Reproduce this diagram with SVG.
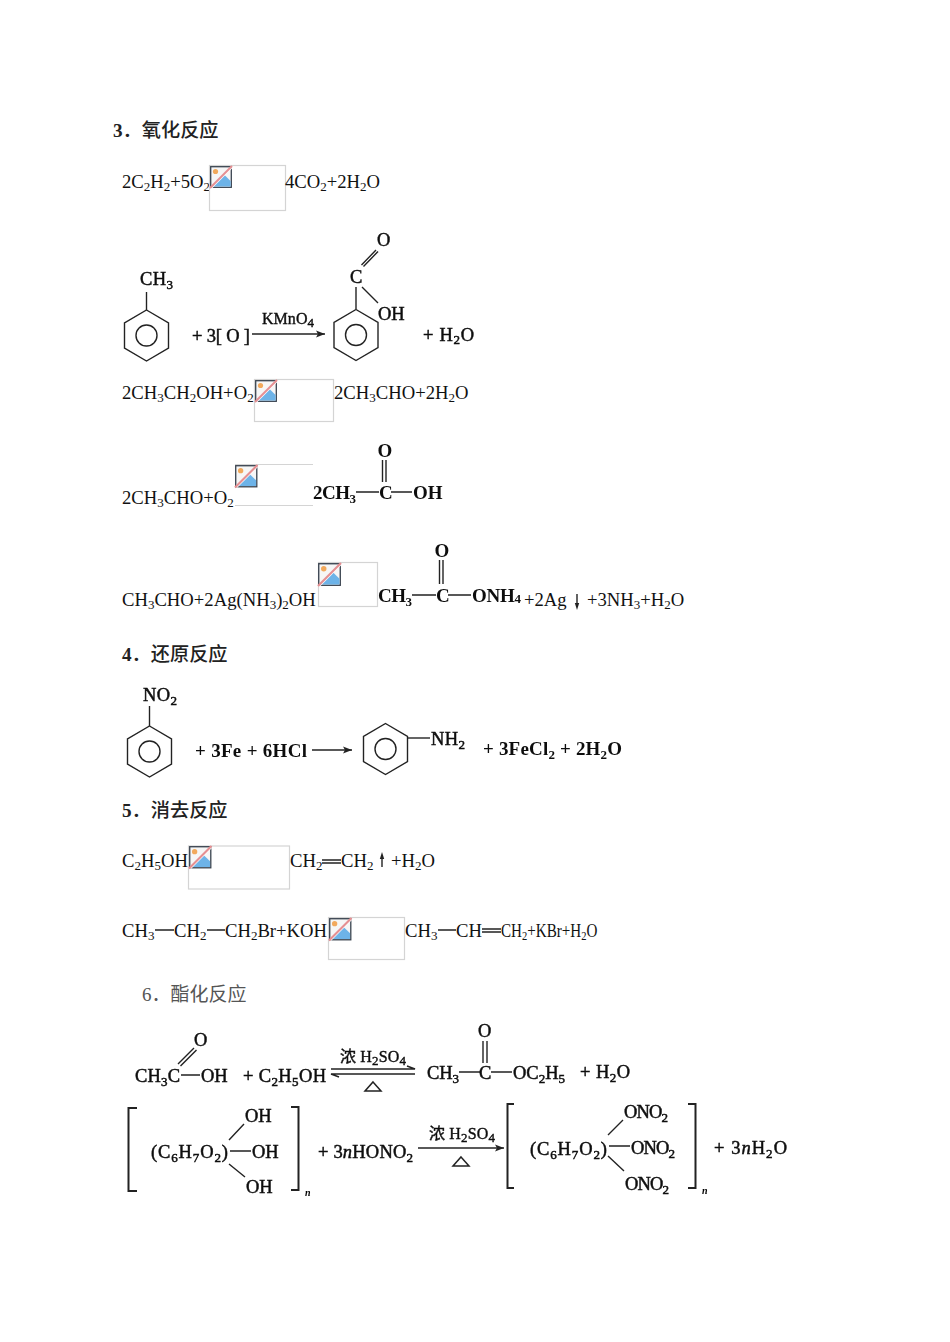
<svg xmlns="http://www.w3.org/2000/svg" xmlns:xlink="http://www.w3.org/1999/xlink" width="950" height="1342" viewBox="0 0 950 1342">
<style>
text{font-family:"Liberation Serif","Noto Sans CJK SC",serif;fill:#000;white-space:pre}
.t{font-size:18.67px;fill:#111}
.h{font-size:19.2px;font-weight:500;fill:#222}
.d{font-weight:bold}
.h6{font-size:19px;fill:#555}
.b{font-size:19px;font-weight:bold;fill:#111}
.r{font-size:18.5px;fill:#111;stroke:#111;stroke-width:.5px}
.k{font-size:16px;fill:#111;stroke:#111;stroke-width:.4px}
.s{font-size:13px}
.n{font-size:10px;font-style:italic;font-weight:bold}
.box{fill:#fff;stroke:#d4d4d4;stroke-width:1.2}
.l,.ring{fill:none;stroke:#222;stroke-width:1.4}
.l2{fill:none;stroke:#222;stroke-width:2}
.th{fill:none;stroke:#222;stroke-width:1.5}
.h-f{fill:#222;stroke:none}
.soft{filter:url(#soft)}
</style>
<defs>
<filter id="soft" x="-5%" y="-5%" width="110%" height="110%"><feGaussianBlur stdDeviation="0.35"/></filter>
<symbol id="broken" viewBox="0 0 22 22" overflow="visible">
<rect x="0.7" y="0.7" width="20.6" height="20.6" fill="#f6f6f6" stroke="#3a4450" stroke-width="1.3"/>
<circle cx="5.5" cy="5.5" r="2.6" fill="#f2a95c"/>
<path d="M1.4 20.6 L11 11 L14 8.500 L20.600 15 V20.600 Z" fill="#6db3e8"/>
<path d="M1.500 22 L22 1.500" stroke="#fff" stroke-width="1.200"/>
<path d="M0 22 L22 0" stroke="#e58f92" stroke-width="2"/>
</symbol>
<g id="benzene">
<path class="ring" d="M0 -25.5 L22 -12.7 V12.7 L0 25.5 L-22 12.7 V-12.7 Z"/>
<circle class="ring" r="10.5"/>
</g>
<marker id="ah" markerUnits="userSpaceOnUse" markerWidth="10" markerHeight="8" refX="9" refY="4" orient="auto"><path class="h-f" d="M0 0.6 L9 4 L0 7.4 L2 4 Z"/></marker>
</defs>

<g id="heading-3"><text class="h" x="113" y="137"><tspan class="d">3</tspan>．氧化反应</text></g>

<g id="eq1">
<text class="t" x="122" y="188">2C<tspan class="s" dy="3">2</tspan><tspan dy="-3">H</tspan><tspan class="s" dy="3">2</tspan><tspan dy="-3">+5O</tspan><tspan class="s" dy="3">2</tspan></text>
<rect class="box" x="209.5" y="165.5" width="76" height="45"/><use xlink:href="#broken" href="#broken" x="210" y="166" width="22" height="22"/>
<text class="t" x="285" y="188">4CO<tspan class="s" dy="3">2</tspan><tspan dy="-3">+2H</tspan><tspan class="s" dy="3">2</tspan><tspan dy="-3">O</tspan></text>
</g>

<g id="eq2" class="soft">
<use href="#benzene" xlink:href="#benzene" x="146.500" y="335.500"/>
<path class="l" d="M146.500 310 V292"/>
<text class="r" x="140" y="285" textLength="33">CH<tspan class="s" dy="4">3</tspan></text>
<text class="r" x="192" y="342" textLength="58">+ 3[ O ]</text>
<path class="l" d="M252 334 H325" marker-end="url(#ah)"/>
<text class="k" x="262" y="324" textLength="52">KMnO<tspan class="s" dy="3">4</tspan></text>
<use href="#benzene" xlink:href="#benzene" x="356" y="335"/>
<path class="l" d="M356 309 V287 M362 287 L378 303 M361.500 265 L376 250 M363.500 266.500 L378 251.500"/>
<text class="r" x="350" y="283">C</text>
<text class="r" x="378" y="320">OH</text>
<text class="r" x="377" y="246">O</text>
<text class="r" x="423" y="341" textLength="51">+ H<tspan class="s" dy="3">2</tspan><tspan dy="-3">O</tspan></text>
</g>

<g id="eq3">
<text class="t" x="122" y="399">2CH<tspan class="s" dy="3">3</tspan><tspan dy="-3">CH</tspan><tspan class="s" dy="3">2</tspan><tspan dy="-3">OH+O</tspan><tspan class="s" dy="3">2</tspan></text>
<rect class="box" x="254.500" y="379.500" width="79" height="42"/><use xlink:href="#broken" href="#broken" x="255" y="380" width="22" height="22"/>
<text class="t" x="334" y="399">2CH<tspan class="s" dy="3">3</tspan><tspan dy="-3">CHO+2H</tspan><tspan class="s" dy="3">2</tspan><tspan dy="-3">O</tspan></text>
</g>

<g id="eq4">
<text class="t" x="122" y="504">2CH<tspan class="s" dy="3">3</tspan><tspan dy="-3">CHO+O</tspan><tspan class="s" dy="3">2</tspan></text>
<path class="box" d="M235 464.500 H313 M235 505.500 H313"/><use xlink:href="#broken" href="#broken" x="235" y="465" width="22.500" height="22.500"/>
<g class="soft">
<text class="b" x="313" y="499" textLength="43">2CH<tspan class="s" dy="4">3</tspan></text>
<path class="l" d="M356 492 H379 M391 492 H412 M382.500 460 V482 M386 460 V482"/>
<text class="b" x="379" y="499">C</text>
<text class="b" x="413" y="499">OH</text>
<text class="b" x="377.500" y="457">O</text>
</g>
</g>

<g id="eq5">
<text class="t" x="122" y="606">CH<tspan class="s" dy="3">3</tspan><tspan dy="-3">CHO+2Ag(NH</tspan><tspan class="s" dy="3">3</tspan><tspan dy="-3">)</tspan><tspan class="s" dy="3">2</tspan><tspan dy="-3">OH</tspan></text>
<rect class="box" x="318.500" y="562.500" width="59" height="44"/><use xlink:href="#broken" href="#broken" x="318" y="563" width="23" height="23"/>
<g class="soft">
<text class="b" x="378" y="602" textLength="34">CH<tspan class="s" dy="4">3</tspan></text>
<path class="l" d="M412 595 H436 M448 595 H471 M439.500 560 V584 M443 560 V584"/>
<text class="b" x="436" y="602">C</text>
<text class="b" x="472" y="602" textLength="49">ONH<tspan class="s" dy="1" font-weight="bold">4</tspan></text>
<text class="b" x="434.500" y="557">O</text>
</g>
<text class="t" x="524" y="606">+2Ag</text>
<path class="l" d="M577 594 V607" stroke-width="1"/><path class="h-f" d="M574.800 603 L577 610 L579.200 603 Z"/>
<text class="t" x="587" y="606">+3NH<tspan class="s" dy="3">3</tspan><tspan dy="-3">+H</tspan><tspan class="s" dy="3">2</tspan><tspan dy="-3">O</tspan></text>
</g>

<g id="heading-4"><text class="h" x="122" y="661"><tspan class="d">4</tspan>．还原反应</text></g>

<g id="eq6" class="soft">
<use href="#benzene" xlink:href="#benzene" x="149.500" y="751.500"/>
<path class="l" d="M149.500 726 V706"/>
<text class="r" x="143" y="701" textLength="34">NO<tspan class="s" dy="4">2</tspan></text>
<text class="b" x="195" y="757" textLength="112">+ 3Fe + 6HCl</text>
<path class="l" d="M312 750 H352" marker-end="url(#ah)"/>
<use href="#benzene" xlink:href="#benzene" x="385.500" y="749"/>
<path class="l" d="M407.500 738 H430"/>
<text class="r" x="431" y="745" textLength="34">NH<tspan class="s" dy="4">2</tspan></text>
<text class="b" x="483" y="755" textLength="139">+ 3FeCl<tspan class="s" dy="4">2</tspan><tspan dy="-4"> + 2H</tspan><tspan class="s" dy="4">2</tspan><tspan dy="-4">O</tspan></text>
</g>

<g id="heading-5"><text class="h" x="122" y="817"><tspan class="d">5</tspan>．消去反应</text></g>

<g id="eq7">
<text class="t" x="122" y="867">C<tspan class="s" dy="3">2</tspan><tspan dy="-3">H</tspan><tspan class="s" dy="3">5</tspan><tspan dy="-3">OH</tspan></text>
<rect class="box" x="188.500" y="846" width="101" height="43"/><use xlink:href="#broken" href="#broken" x="189" y="846" width="22.500" height="22.500"/>
<text class="t" x="290" y="867">CH<tspan class="s" dy="3">2</tspan></text>
<path class="l" d="M322 860 H341 M322 863 H341" stroke-width="1"/>
<text class="t" x="341" y="867">CH<tspan class="s" dy="3">2</tspan></text>
<path class="l" d="M382 867 V855" stroke-width="1"/><path class="h-f" d="M379.800 859 L382 852 L384.200 859 Z"/>
<text class="t" x="391" y="867">+H<tspan class="s" dy="3">2</tspan><tspan dy="-3">O</tspan></text>
</g>

<g id="eq8">
<text class="t" x="122" y="937">CH<tspan class="s" dy="3">3</tspan></text>
<path class="l" d="M155 930 H174 M207 930 H225" stroke-width="1"/>
<text class="t" x="174" y="937">CH<tspan class="s" dy="3">2</tspan></text>
<text class="t" x="225" y="937">CH<tspan class="s" dy="3">2</tspan><tspan dy="-3">Br+KOH</tspan></text>
<rect class="box" x="328.500" y="917.500" width="76" height="42"/><use xlink:href="#broken" href="#broken" x="329" y="918" width="22.500" height="22.500"/>
<text class="t" x="405" y="937">CH<tspan class="s" dy="3">3</tspan></text>
<path class="l" d="M438 930 H456 M482 929 H501 M482 932 H501" stroke-width="1"/>
<text class="t" x="456" y="937">CH</text>
<text class="t" x="501" y="937" transform="translate(501 0) scale(.81 1) translate(-501 0)">CH<tspan class="s" dy="3">2</tspan><tspan dy="-3">+KBr+H</tspan><tspan class="s" dy="3">2</tspan><tspan dy="-3">O</tspan></text>
</g>

<g id="heading-6"><text class="h6" x="142" y="1001">6．酯化反应</text></g>

<g id="eq9" class="soft">
<path class="l" d="M178 1064 L194 1048 M180.500 1066 L196.500 1050 M181 1075 H200"/>
<text class="r" x="194" y="1046">O</text>
<text class="r" x="135" y="1082" textLength="45">CH<tspan class="s" dy="4">3</tspan><tspan dy="-4">C</tspan></text>
<text class="r" x="201" y="1082">OH</text>
<text class="r" x="243" y="1082" textLength="83">+ C<tspan class="s" dy="4">2</tspan><tspan dy="-4">H</tspan><tspan class="s" dy="4">5</tspan><tspan dy="-4">OH</tspan></text>
<path class="l" d="M331 1069 H415 L407 1066 M415 1074 H331 L339 1077" stroke-width="1.200"/>
<text class="k" x="340" y="1062" textLength="66">浓 H<tspan class="s" dy="3">2</tspan><tspan dy="-3">SO</tspan><tspan class="s" dy="3">4</tspan></text>
<path class="th" d="M373 1082 L381 1091 H365 Z"/>
<text class="r" x="427" y="1079" textLength="32">CH<tspan class="s" dy="4">3</tspan></text>
<path class="l" d="M459 1072 H480 M491 1072 H512 M483 1041 V1063 M487 1041 V1063"/>
<text class="r" x="479" y="1079">C</text>
<text class="r" x="513" y="1079" textLength="52">OC<tspan class="s" dy="4">2</tspan><tspan dy="-4">H</tspan><tspan class="s" dy="4">5</tspan></text>
<text class="r" x="478" y="1037">O</text>
<text class="r" x="580" y="1078" textLength="50">+ H<tspan class="s" dy="4">2</tspan><tspan dy="-4">O</tspan></text>
</g>

<g id="eq10" class="soft">
<path class="l2" d="M137 1108 H128.500 V1191 H137 M291 1107 H298.500 V1190 H291"/>
<text class="r" x="151" y="1158" textLength="77">(C<tspan class="s" dy="4">6</tspan><tspan dy="-4">H</tspan><tspan class="s" dy="4">7</tspan><tspan dy="-4">O</tspan><tspan class="s" dy="4">2</tspan><tspan dy="-4">)</tspan></text>
<path class="l" d="M229 1140 L244 1124 M230 1151 H251 M229 1164 L245 1177"/>
<text class="r" x="245" y="1122">OH</text>
<text class="r" x="252" y="1158">OH</text>
<text class="r" x="246" y="1193">OH</text>
<text class="n" x="305" y="1196">n</text>
<text class="r" x="318" y="1158" textLength="95">+ 3<tspan font-style="italic">n</tspan>HONO<tspan class="s" dy="4">2</tspan></text>
<path class="l" d="M418 1148 H504" marker-end="url(#ah)"/>
<text class="k" x="429" y="1139" textLength="66">浓 H<tspan class="s" dy="3">2</tspan><tspan dy="-3">SO</tspan><tspan class="s" dy="3">4</tspan></text>
<path class="th" d="M461 1157 L469 1166 H453 Z"/>
<path class="l2" d="M514 1104 H507.500 V1188 H514 M688 1104 H695.500 V1188 H688"/>
<text class="r" x="530" y="1155" textLength="77">(C<tspan class="s" dy="4">6</tspan><tspan dy="-4">H</tspan><tspan class="s" dy="4">7</tspan><tspan dy="-4">O</tspan><tspan class="s" dy="4">2</tspan><tspan dy="-4">)</tspan></text>
<path class="l" d="M608 1135 L623 1120 M609 1146 H630 M608 1156 L624 1171"/>
<text class="r" x="624" y="1118" textLength="44">ONO<tspan class="s" dy="4">2</tspan></text>
<text class="r" x="631" y="1154" textLength="44">ONO<tspan class="s" dy="4">2</tspan></text>
<text class="r" x="625" y="1190" textLength="44">ONO<tspan class="s" dy="4">2</tspan></text>
<text class="n" x="702" y="1194">n</text>
<text class="r" x="714" y="1154" textLength="73">+ 3<tspan font-style="italic">n</tspan>H<tspan class="s" dy="4">2</tspan><tspan dy="-4">O</tspan></text>
</g>
</svg>
